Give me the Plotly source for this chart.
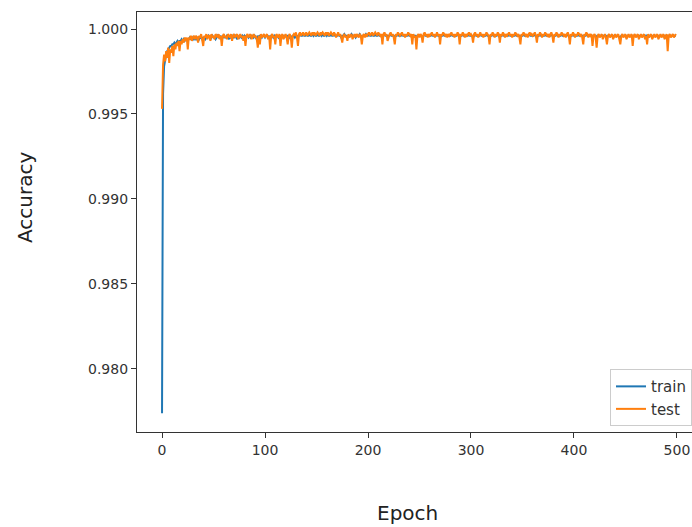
import plotly.graph_objects as go

epochs = list(range(500))

train_acc = [
    0.9774, 0.9962, 0.9978, 0.9983, 0.9985, 0.9987, 0.9988, 0.9989, 0.9990, 0.9990, 0.9991, 0.9991, 0.9992, 0.9991, 0.9992, 0.9993, 0.9992, 0.9993, 0.9993, 0.9994,
    0.9993, 0.9994, 0.9993, 0.9994, 0.9994, 0.9993, 0.9994, 0.9995, 0.9994, 0.9994, 0.9995, 0.9994, 0.9995, 0.9994, 0.9995, 0.9995, 0.9994, 0.9995, 0.9995, 0.9994,
    0.9995, 0.9995, 0.9994, 0.9995, 0.9995, 0.9996, 0.9995, 0.9994, 0.9995, 0.9996, 0.9995, 0.9995, 0.9994, 0.9995, 0.9996, 0.9995, 0.9995, 0.9996, 0.9994, 0.9995,
    0.9996, 0.9995, 0.9995, 0.9996, 0.9995, 0.9994, 0.9996, 0.9995, 0.9996, 0.9995, 0.9995, 0.9996, 0.9995, 0.9994, 0.9996, 0.9995, 0.9996, 0.9995, 0.9996, 0.9995,
    0.9996, 0.9995, 0.9996, 0.9996, 0.9995, 0.9996, 0.9995, 0.9996, 0.9996, 0.9995, 0.9996, 0.9995, 0.9994, 0.9996, 0.9995, 0.9996, 0.9996, 0.9995, 0.9996, 0.9996,
    0.9995, 0.9996, 0.9996, 0.9995, 0.9996, 0.9994, 0.9996, 0.9996, 0.9995, 0.9996, 0.9995, 0.9996, 0.9996, 0.9995, 0.9996, 0.9995, 0.9996, 0.9996, 0.9995, 0.9996,
    0.9996, 0.9995, 0.9996, 0.9996, 0.9995, 0.9996, 0.9994, 0.9996, 0.9996, 0.9995, 0.9996, 0.9996, 0.9995, 0.9996, 0.9997, 0.9996, 0.9996, 0.9997, 0.9996, 0.9996,
    0.9997, 0.9996, 0.9996, 0.9997, 0.9996, 0.9996, 0.9997, 0.9996, 0.9997, 0.9996, 0.9996, 0.9997, 0.9996, 0.9996, 0.9997, 0.9996, 0.9997, 0.9996, 0.9996, 0.9997,
    0.9996, 0.9997, 0.9996, 0.9996, 0.9997, 0.9996, 0.9996, 0.9997, 0.9996, 0.9996, 0.9996, 0.9997, 0.9996, 0.9996, 0.9995, 0.9996, 0.9996, 0.9997, 0.9996, 0.9996,
    0.9995, 0.9996, 0.9996, 0.9996, 0.9997, 0.9996, 0.9996, 0.9996, 0.9995, 0.9996, 0.9996, 0.9996, 0.9997, 0.9996, 0.9995, 0.9996, 0.9996, 0.9996, 0.9997, 0.9996,
    0.9996, 0.9997, 0.9996, 0.9996, 0.9997, 0.9996, 0.9996, 0.9997, 0.9996, 0.9996, 0.9997, 0.9996, 0.9996, 0.9996, 0.9995, 0.9996, 0.9997, 0.9996, 0.9996, 0.9996,
    0.9996, 0.9996, 0.9997, 0.9996, 0.9996, 0.9996, 0.9995, 0.9996, 0.9996, 0.9997, 0.9996, 0.9996, 0.9996, 0.9997, 0.9996, 0.9996, 0.9996, 0.9996, 0.9996, 0.9997,
    0.9996, 0.9996, 0.9996, 0.9995, 0.9996, 0.9996, 0.9996, 0.9994, 0.9996, 0.9996, 0.9996, 0.9996, 0.9996, 0.9995, 0.9996, 0.9997, 0.9996, 0.9996, 0.9996, 0.9996,
    0.9996, 0.9996, 0.9997, 0.9996, 0.9996, 0.9996, 0.9996, 0.9997, 0.9996, 0.9996, 0.9995, 0.9996, 0.9996, 0.9997, 0.9996, 0.9996, 0.9996, 0.9996, 0.9996, 0.9996,
    0.9996, 0.9997, 0.9996, 0.9996, 0.9996, 0.9996, 0.9996, 0.9997, 0.9996, 0.9995, 0.9996, 0.9996, 0.9997, 0.9996, 0.9996, 0.9996, 0.9996, 0.9996, 0.9997, 0.9996,
    0.9996, 0.9996, 0.9995, 0.9996, 0.9997, 0.9996, 0.9996, 0.9996, 0.9996, 0.9997, 0.9996, 0.9996, 0.9996, 0.9996, 0.9996, 0.9997, 0.9996, 0.9996, 0.9995, 0.9996,
    0.9996, 0.9997, 0.9996, 0.9996, 0.9996, 0.9996, 0.9997, 0.9996, 0.9995, 0.9996, 0.9996, 0.9997, 0.9996, 0.9996, 0.9996, 0.9996, 0.9996, 0.9997, 0.9996, 0.9996,
    0.9996, 0.9996, 0.9996, 0.9997, 0.9996, 0.9996, 0.9996, 0.9996, 0.9995, 0.9996, 0.9996, 0.9997, 0.9996, 0.9996, 0.9996, 0.9996, 0.9996, 0.9997, 0.9996, 0.9996,
    0.9996, 0.9996, 0.9997, 0.9996, 0.9995, 0.9996, 0.9996, 0.9997, 0.9996, 0.9996, 0.9996, 0.9996, 0.9997, 0.9996, 0.9996, 0.9996, 0.9996, 0.9996, 0.9997, 0.9996,
    0.9995, 0.9996, 0.9996, 0.9997, 0.9996, 0.9996, 0.9996, 0.9996, 0.9997, 0.9996, 0.9996, 0.9996, 0.9996, 0.9996, 0.9997, 0.9996, 0.9995, 0.9996, 0.9996, 0.9997,
    0.9996, 0.9996, 0.9996, 0.9996, 0.9997, 0.9996, 0.9996, 0.9996, 0.9996, 0.9995, 0.9996, 0.9996, 0.9997, 0.9996, 0.9996, 0.9996, 0.9996, 0.9996, 0.9995, 0.9996,
    0.9996, 0.9996, 0.9994, 0.9996, 0.9996, 0.9996, 0.9996, 0.9996, 0.9996, 0.9996, 0.9996, 0.9996, 0.9995, 0.9996, 0.9996, 0.9996, 0.9996, 0.9996, 0.9995, 0.9996,
    0.9996, 0.9996, 0.9996, 0.9996, 0.9995, 0.9995, 0.9996, 0.9996, 0.9996, 0.9996, 0.9996, 0.9995, 0.9996, 0.9996, 0.9996, 0.9996, 0.9996, 0.9995, 0.9996, 0.9996,
    0.9996, 0.9996, 0.9996, 0.9995, 0.9996, 0.9996, 0.9996, 0.9996, 0.9996, 0.9995, 0.9996, 0.9995, 0.9996, 0.9996, 0.9996, 0.9996, 0.9995, 0.9996, 0.9996, 0.9996,
    0.9996, 0.9996, 0.9995, 0.9996, 0.9996, 0.9996, 0.9996, 0.9996, 0.9995, 0.9996, 0.9996, 0.9994, 0.9996, 0.9996, 0.9996, 0.9996, 0.9996, 0.9996, 0.9996, 0.9996,
]

test_acc = [
    0.9953, 0.9979, 0.9985, 0.9981, 0.9987, 0.9983, 0.9989, 0.9980, 0.9988, 0.9986, 0.9990, 0.9984, 0.9991, 0.9988, 0.9992, 0.9990, 0.9993, 0.9987, 0.9993, 0.9991,
    0.9994, 0.9992, 0.9995, 0.9993, 0.9995, 0.9988, 0.9995, 0.9994, 0.9996, 0.9993, 0.9995, 0.9996, 0.9994, 0.9996, 0.9995, 0.9992, 0.9996, 0.9995, 0.9997, 0.9994,
    0.9990, 0.9996, 0.9995, 0.9997, 0.9994, 0.9996, 0.9996, 0.9993, 0.9997, 0.9995, 0.9996, 0.9994, 0.9997, 0.9996, 0.9995, 0.9997, 0.9994, 0.9996, 0.9990, 0.9996,
    0.9997, 0.9995, 0.9996, 0.9994, 0.9997, 0.9996, 0.9995, 0.9997, 0.9993, 0.9996, 0.9997, 0.9995, 0.9996, 0.9997, 0.9994, 0.9996, 0.9997, 0.9995, 0.9996, 0.9993,
    0.9996, 0.9990, 0.9996, 0.9997, 0.9995, 0.9996, 0.9997, 0.9994, 0.9996, 0.9997, 0.9995, 0.9996, 0.9994, 0.9989, 0.9996, 0.9991, 0.9997, 0.9995, 0.9996, 0.9997,
    0.9995, 0.9996, 0.9997, 0.9994, 0.9996, 0.9988, 0.9996, 0.9997, 0.9995, 0.9996, 0.9991, 0.9997, 0.9996, 0.9995, 0.9997, 0.9990, 0.9996, 0.9997, 0.9994, 0.9996,
    0.9997, 0.9995, 0.9991, 0.9996, 0.9997, 0.9995, 0.9989, 0.9996, 0.9997, 0.9996, 0.9998, 0.9995, 0.9990, 0.9997, 0.9998, 0.9996, 0.9997, 0.9998, 0.9996, 0.9997,
    0.9998, 0.9996, 0.9997, 0.9998, 0.9997, 0.9996, 0.9998, 0.9997, 0.9998, 0.9996, 0.9997, 0.9998, 0.9997, 0.9996, 0.9998, 0.9997, 0.9998, 0.9997, 0.9996, 0.9998,
    0.9997, 0.9998, 0.9996, 0.9997, 0.9998, 0.9997, 0.9996, 0.9998, 0.9997, 0.9995, 0.9997, 0.9998, 0.9996, 0.9997, 0.9995, 0.9992, 0.9996, 0.9997, 0.9995, 0.9996,
    0.9993, 0.9997, 0.9995, 0.9996, 0.9997, 0.9994, 0.9996, 0.9997, 0.9995, 0.9997, 0.9996, 0.9995, 0.9997, 0.9996, 0.9991, 0.9996, 0.9997, 0.9995, 0.9997, 0.9996,
    0.9997, 0.9998, 0.9996, 0.9997, 0.9998, 0.9996, 0.9997, 0.9998, 0.9997, 0.9996, 0.9998, 0.9997, 0.9996, 0.9997, 0.9991, 0.9997, 0.9998, 0.9996, 0.9997, 0.9993,
    0.9996, 0.9997, 0.9998, 0.9996, 0.9997, 0.9995, 0.9991, 0.9997, 0.9996, 0.9998, 0.9997, 0.9996, 0.9997, 0.9998, 0.9996, 0.9997, 0.9995, 0.9997, 0.9996, 0.9998,
    0.9997, 0.9996, 0.9997, 0.9991, 0.9997, 0.9995, 0.9996, 0.9988, 0.9996, 0.9997, 0.9995, 0.9997, 0.9996, 0.9992, 0.9997, 0.9998, 0.9996, 0.9997, 0.9995, 0.9997,
    0.9996, 0.9997, 0.9998, 0.9996, 0.9997, 0.9995, 0.9997, 0.9998, 0.9996, 0.9997, 0.9991, 0.9997, 0.9996, 0.9998, 0.9997, 0.9996, 0.9997, 0.9995, 0.9997, 0.9996,
    0.9997, 0.9998, 0.9996, 0.9997, 0.9995, 0.9997, 0.9996, 0.9998, 0.9997, 0.9991, 0.9997, 0.9996, 0.9998, 0.9997, 0.9995, 0.9997, 0.9996, 0.9997, 0.9998, 0.9996,
    0.9997, 0.9996, 0.9992, 0.9997, 0.9998, 0.9996, 0.9997, 0.9995, 0.9997, 0.9998, 0.9996, 0.9997, 0.9995, 0.9997, 0.9996, 0.9998, 0.9997, 0.9996, 0.9991, 0.9997,
    0.9996, 0.9998, 0.9997, 0.9995, 0.9997, 0.9996, 0.9998, 0.9997, 0.9992, 0.9997, 0.9996, 0.9998, 0.9997, 0.9995, 0.9997, 0.9996, 0.9997, 0.9998, 0.9996, 0.9997,
    0.9995, 0.9997, 0.9996, 0.9998, 0.9997, 0.9996, 0.9997, 0.9995, 0.9991, 0.9997, 0.9996, 0.9998, 0.9997, 0.9996, 0.9997, 0.9995, 0.9997, 0.9998, 0.9996, 0.9997,
    0.9996, 0.9997, 0.9998, 0.9996, 0.9992, 0.9997, 0.9996, 0.9998, 0.9997, 0.9995, 0.9997, 0.9996, 0.9998, 0.9997, 0.9996, 0.9997, 0.9995, 0.9997, 0.9998, 0.9996,
    0.9992, 0.9997, 0.9996, 0.9998, 0.9997, 0.9995, 0.9997, 0.9996, 0.9998, 0.9997, 0.9996, 0.9997, 0.9995, 0.9997, 0.9998, 0.9996, 0.9991, 0.9997, 0.9996, 0.9998,
    0.9997, 0.9995, 0.9997, 0.9996, 0.9998, 0.9997, 0.9996, 0.9997, 0.9995, 0.9991, 0.9997, 0.9996, 0.9998, 0.9997, 0.9995, 0.9997, 0.9996, 0.9997, 0.9990, 0.9996,
    0.9997, 0.9995, 0.9989, 0.9996, 0.9997, 0.9995, 0.9996, 0.9997, 0.9994, 0.9996, 0.9997, 0.9995, 0.9991, 0.9996, 0.9997, 0.9995, 0.9996, 0.9997, 0.9994, 0.9996,
    0.9997, 0.9995, 0.9996, 0.9997, 0.9994, 0.9991, 0.9996, 0.9997, 0.9995, 0.9996, 0.9997, 0.9994, 0.9996, 0.9997, 0.9995, 0.9996, 0.9997, 0.9990, 0.9996, 0.9997,
    0.9995, 0.9996, 0.9997, 0.9994, 0.9996, 0.9997, 0.9995, 0.9996, 0.9997, 0.9994, 0.9996, 0.9991, 0.9997, 0.9995, 0.9996, 0.9997, 0.9994, 0.9996, 0.9997, 0.9995,
    0.9996, 0.9997, 0.9994, 0.9996, 0.9997, 0.9995, 0.9996, 0.9997, 0.9994, 0.9996, 0.9997, 0.9987, 0.9996, 0.9997, 0.9995, 0.9996, 0.9997, 0.9995, 0.9996, 0.9997,
]

x_ticks = [0, 100, 200, 300, 400, 500]
y_ticks = [0.980, 0.985, 0.990, 0.995, 1.000]
y_tick_labels = ["0.980", "0.985", "0.990", "0.995", "1.000"]

FONT = "DejaVu Sans"

fig = go.Figure()
fig.add_trace(go.Scatter(x=epochs, y=train_acc, mode="lines", name="train",
                         line=dict(color="#1f77b4", width=2)))
fig.add_trace(go.Scatter(x=epochs, y=test_acc, mode="lines", name="test",
                         line=dict(color="#ff7f0e", width=2)))

fig.update_layout(
    width=692, height=527,
    margin=dict(l=137, r=0, t=12, b=95),
    paper_bgcolor="white", plot_bgcolor="white",
    font=dict(family=FONT, color="#333"),
    showlegend=True,
    legend=dict(x=1.0, xanchor="right", y=0.014, yanchor="bottom",
                bgcolor="rgba(255,255,255,0.8)", bordercolor="#cccccc", borderwidth=1,
                font=dict(size=15, color="#333"), itemwidth=30),
    xaxis=dict(range=[-24.3, 514.6], tickvals=x_ticks, showgrid=False, zeroline=False,
               showline=True, linecolor="#333", linewidth=1.2, mirror=True,
               ticks="outside", ticklen=5, tickwidth=1.2, tickcolor="#333",
               tickfont=dict(size=14, color="#333")),
    yaxis=dict(range=[0.97629, 1.0010], tickvals=y_ticks, ticktext=y_tick_labels,
               showgrid=False, zeroline=False,
               showline=True, linecolor="#333", linewidth=1.2, mirror=False,
               ticks="outside", ticklen=5, tickwidth=1.2, tickcolor="#333",
               tickfont=dict(size=14, color="#333")),
    annotations=[
        dict(text="Epoch", xref="paper", yref="paper", x=0.4865, y=-0.193,
             xanchor="center", yanchor="middle", showarrow=False,
             font=dict(size=20, color="#222", family=FONT)),
        dict(text="Accuracy", xref="paper", yref="paper", x=-0.2018, y=0.557,
             xanchor="center", yanchor="middle", showarrow=False, textangle=-90,
             font=dict(size=20, color="#222", family=FONT)),
    ],
)

fig.write_html("out.html")
